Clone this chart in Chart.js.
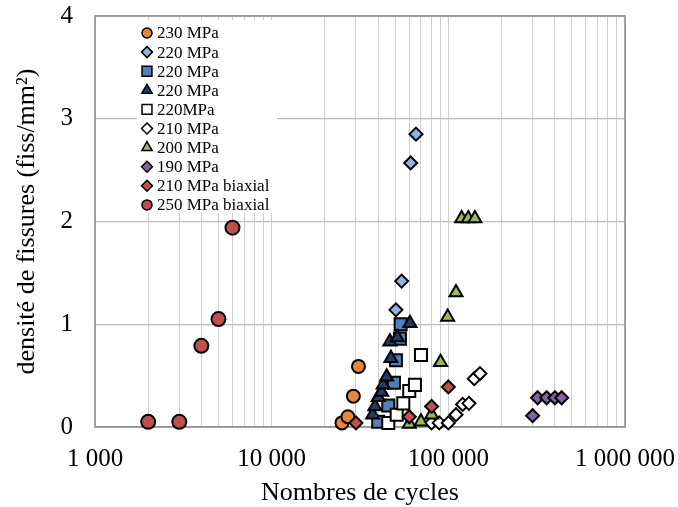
<!DOCTYPE html>
<html>
<head>
<meta charset="utf-8">
<script src="https://cdn.jsdelivr.net/npm/chart.js@4"></script>
<style>
  html, body { margin: 0; padding: 0; background: #fff; }
  #wrap { width: 678px; height: 507px; }
</style>
</head>
<body>
<div id="wrap"><canvas id="crackChart" width="678" height="507"></canvas></div>
<script>
// Series data (cycles / crack density in fiss/mm²)
const cycles230 = [25000, 27000, 29000, 31000];
const dens230 = [0.04, 0.10, 0.30, 0.59];

const cycles220d = [50500, 54400, 61200, 65600];
const dens220d = [1.14, 1.42, 2.57, 2.85];

const cycles220s = [40100, 45700, 49200, 50500, 53200, 53700];
const dens220s = [0.05, 0.21, 0.43, 0.65, 0.86, 1.00];

const cycles220t = [37300, 38400, 40100, 41900, 42800, 44800, 47300, 46700, 51400, 60600];
const dens220t = [0.12, 0.20, 0.29, 0.34, 0.41, 0.49, 0.67, 0.83, 0.87, 1.01];

const cycles220w = [45700, 51000, 55600, 60100, 64700, 70000];
const dens220w = [0.04, 0.12, 0.23, 0.35, 0.41, 0.70];

const cycles210 = [80400, 88800, 100000, 110500, 120500, 130800, 140200, 151000];
const dens210 = [0.04, 0.04, 0.04, 0.12, 0.22, 0.23, 0.47, 0.52];

const cycles200 = [60100, 70000, 80400, 90400, 99100, 110500, 119000, 129600, 141400];
const dens200 = [0.03, 0.05, 0.12, 0.63, 1.07, 1.31, 2.03, 2.03, 2.03];

const cycles190 = [300000, 320000, 360000, 401000, 438000];
const dens190 = [0.11, 0.285, 0.285, 0.285, 0.285];

const cycles210b = [30000, 60100, 80400, 100000];
const dens210b = [0.04, 0.10, 0.20, 0.39];

const cycles250b = [2000, 3000, 4000, 5000, 6000];
const dens250b = [0.05, 0.05, 0.79, 1.05, 1.94];

// Axis ticks
const xMajorTicks = [1000, 10000, 100000, 1000000];
const gridMultipliers = [1, 2, 3, 4, 5, 6, 7, 8, 9];
const yTicks = [0, 1, 2, 3, 4];

const FONT = '"Liberation Serif", "Times New Roman", serif';

function toPoints(xs, ys) {
    return xs.map((x, i) => ({ x: x, y: ys[i] }));
}

function makeSeries(label, xs, ys, color, style, radius, legendRadius) {
    return {
        label: label,
        data: toPoints(xs, ys),
        backgroundColor: color,
        borderColor: '#000',
        borderWidth: 2,
        pointStyle: style,
        pointRadius: radius,
        pointHoverRadius: radius,
        legendRadius: legendRadius,
        clip: false
    };
}

const datasets = [
    makeSeries('230 MPa', cycles230, dens230, '#e6863a', 'circle', 6.5, 5),
    makeSeries('220 MPa', cycles220d, dens220d, '#8db4e2', 'rectRot', 6.5, 5.5),
    makeSeries('220 MPa', cycles220s, dens220s, '#4f81bd', 'rect', 8.5, 7),
    makeSeries('220 MPa', cycles220t, dens220t, '#1f3d66', 'triangle', 7.5, 6),
    makeSeries('220MPa', cycles220w, dens220w, '#ffffff', 'rect', 8.5, 7),
    makeSeries('210 MPa', cycles210, dens210, '#ffffff', 'rectRot', 6.5, 5.5),
    makeSeries('200 MPa', cycles200, dens200, '#9bbb59', 'triangle', 7.5, 6),
    makeSeries('190 MPa', cycles190, dens190, '#8064a2', 'rectRot', 6.5, 5.5),
    makeSeries('210 MPa biaxial', cycles210b, dens210b, '#c0504d', 'rectRot', 6.5, 5.5),
    makeSeries('250 MPa biaxial', cycles250b, dens250b, '#c0504d', 'circle', 7, 5)
];
// later series drawn on top, as in the original
datasets.forEach((ds, i) => { ds.order = datasets.length - i; });

function formatThousands(v) {
    return String(v).replace(/\B(?=(\d{3})+(?!\d))/g, ' ');
}

// no extra room for overflowing tick labels: the plot area is fixed by layout padding
function noLabelPadding(scale) {
    scale.paddingLeft = 0;
    scale.paddingRight = 0;
    scale.paddingTop = 0;
    scale.paddingBottom = 0;
}

// frame around the plot area
const plotFrame = {
    id: 'plotFrame',
    beforeDatasetsDraw(chart) {
        const { ctx, chartArea: a } = chart;
        ctx.save();
        ctx.strokeStyle = '#8a8a8a';
        ctx.lineWidth = 1.5;
        ctx.strokeRect(a.left, a.top, a.right - a.left, a.bottom - a.top);
        ctx.restore();
    }
};

// legend box drawn inside the plot, top left
const insideLegend = {
    id: 'insideLegend',
    afterDatasetsDraw(chart) {
        const ctx = chart.ctx;
        const drawPoint = Chart.helpers && Chart.helpers.drawPoint;
        ctx.save();
        ctx.fillStyle = '#fff';
        ctx.fillRect(137, 20, 140, 193);
        ctx.font = '17px ' + FONT;
        ctx.textBaseline = 'middle';
        ctx.textAlign = 'left';
        chart.data.datasets.forEach((ds, i) => {
            const y = 33 + i * 19.1;
            ctx.fillStyle = ds.backgroundColor;
            ctx.strokeStyle = '#000';
            ctx.lineWidth = 1.5;
            if (drawPoint) {
                drawPoint(ctx, { pointStyle: ds.pointStyle, radius: ds.legendRadius, borderWidth: 1.5, rotation: 0 }, 147, y);
            }
            ctx.fillStyle = '#000';
            ctx.fillText(ds.label, 157, y + 1);
        });
        ctx.restore();
    }
};

const ctx = document.getElementById('crackChart').getContext('2d');

new Chart(ctx, {
    type: 'scatter',
    data: { datasets: datasets },
    plugins: [plotFrame, insideLegend],
    options: {
        responsive: false,
        animation: false,
        devicePixelRatio: 1,
        layout: {
            padding: { left: 0, right: 53, top: 16, bottom: 0 }
        },
        plugins: {
            legend: { display: false },
            tooltip: { enabled: false }
        },
        scales: {
            x: {
                type: 'logarithmic',
                min: 1000,
                max: 1000000,
                afterBuildTicks: function(axis) {
                    const ticks = [];
                    xMajorTicks.forEach((d, k) => {
                        if (k === xMajorTicks.length - 1) {
                            ticks.push({ value: d });
                        } else {
                            gridMultipliers.forEach(m => ticks.push({ value: d * m }));
                        }
                    });
                    axis.ticks = ticks;
                },
                afterFit: function(scale) {
                    scale.height = 80;
                    noLabelPadding(scale);
                },
                grid: {
                    color: '#d0d0d0',
                    lineWidth: 1,
                    drawTicks: false
                },
                border: { display: false },
                ticks: {
                    autoSkip: false,
                    maxRotation: 0,
                    padding: 17,
                    color: '#000',
                    font: { family: FONT, size: 25 },
                    callback: function(value) {
                        return xMajorTicks.includes(value) ? formatThousands(value) : '';
                    }
                },
                title: {
                    display: true,
                    text: 'Nombres de cycles',
                    color: '#000',
                    font: { family: FONT, size: 26, lineHeight: 1 },
                    padding: { top: 0, bottom: 1 }
                }
            },
            y: {
                min: 0,
                max: 4,
                afterBuildTicks: function(axis) {
                    axis.ticks = yTicks.map(v => ({ value: v }));
                },
                afterFit: function(scale) {
                    scale.width = 95;
                    noLabelPadding(scale);
                },
                grid: {
                    color: '#bdbdbd',
                    lineWidth: 1.2,
                    drawTicks: false
                },
                border: { display: false },
                ticks: {
                    padding: 22,
                    color: '#000',
                    font: { family: FONT, size: 25 }
                },
                title: {
                    display: true,
                    text: 'densité de fissures (fiss/mm²)',
                    color: '#000',
                    font: { family: FONT, size: 26, lineHeight: 1 },
                    padding: { top: 14, bottom: 0 }
                }
            }
        }
    }
});
</script>
</body>
</html>
